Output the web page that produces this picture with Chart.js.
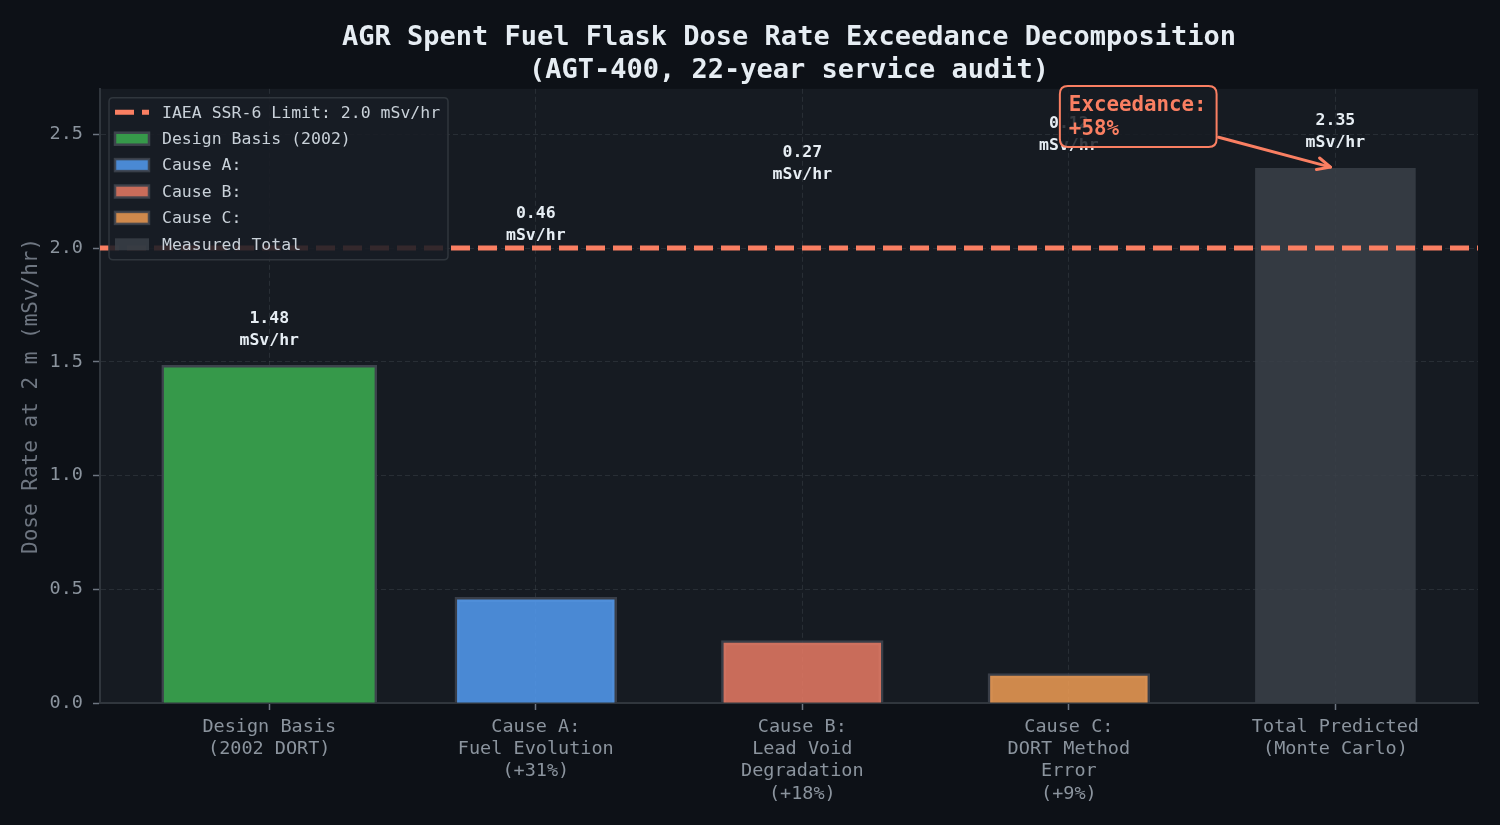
<!DOCTYPE html>
<html>
<head>
<meta charset="utf-8">
<script src="https://cdn.jsdelivr.net/npm/chart.js@4.4.1/dist/chart.umd.min.js"></script>
<style>
  html, body { margin: 0; padding: 0; background: #0d1117; }
  #wrap { width: 1500px; height: 825px; }
</style>
</head>
<body>
<div id="wrap"><canvas id="chart" width="1500" height="825"></canvas></div>
<script>
// === DATA ===
const categories = [
  ["Design Basis", "(2002 DORT)"],
  ["Cause A:", "Fuel Evolution", "(+31%)"],
  ["Cause B:", "Lead Void", "Degradation", "(+18%)"],
  ["Cause C:", "DORT Method", "Error", "(+9%)"],
  ["Total Predicted", "(Monte Carlo)"]
];
const legendNames = ["Design Basis (2002)", "Cause A:", "Cause B:", "Cause C:", "Measured Total"];
const doseValues = [1.48, 0.46, 0.27, 0.125, 2.35];
const valueLabels = ["1.48", "0.46", "0.27", "0.12", "2.35"];
const isTotal = [false, false, false, false, true];
const limitValue = 2.0;
const limitLabel = "IAEA SSR-6 Limit: 2.0 mSv/hr";
const yTicks = [0, 0.5, 1.0, 1.5, 2.0, 2.5];
const exceedanceText = ["Exceedance:", "+58%"];
const exceedanceAt = { x: 3.0, y: 2.58 };   // text anchor (data units)
const exceedanceTarget = { x: 4, y: 2.35 }; // arrow points at the total bar

// === STYLE ===
const MONO = '"DejaVu Sans Mono", monospace';
const CORAL = "#fa7f62";
const AXES_BG = "#161b22";
const GRID = "rgba(139,148,158,0.16)";
const TICK_TXT = "#8b949e";
const SPINE = "#30363d";
const X_MIN = -0.635, X_MAX = 4.535;

const barFill = [
  "#36994a",
  "rgba(83,156,243,0.85)",
  "rgba(233,122,100,0.85)",
  "rgba(240,156,83,0.85)",
  "rgba(57,64,72,0.85)"
];
const barEdge = ["#3d434c", "rgba(61,67,76,0.9)", "rgba(61,67,76,0.9)", "rgba(61,67,76,0.9)", "rgba(0,0,0,0)"];
const barWidthFrac = [0.8, 0.6, 0.6, 0.6, 0.6];

const datasets = doseValues.map((v, i) => ({
  type: "bar",
  label: legendNames[i],
  data: [{ x: i, y: v }],
  backgroundColor: barFill[i],
  borderColor: barEdge[i],
  borderWidth: isTotal[i] ? 0 : 2.5,
  borderSkipped: "start",
  inflateAmount: isTotal[i] ? 0.33 : 1.25,
  barPercentage: barWidthFrac[i],
  categoryPercentage: 1,
  grouped: false,
  order: 2
}));

datasets.push({
  type: "line",
  label: limitLabel,
  data: [{ x: X_MIN, y: limitValue }, { x: X_MAX, y: limitValue }],
  borderColor: CORAL,
  borderWidth: 5,
  borderDash: [19, 8],
  pointRadius: 0,
  order: 1
});

// axes background
const areaBg = {
  id: "areaBg",
  beforeDraw(chart) {
    const { ctx, chartArea: a } = chart;
    ctx.save();
    ctx.fillStyle = AXES_BG;
    ctx.fillRect(a.left, a.top, a.right - a.left, a.bottom - a.top);
    ctx.restore();
  }
};

function roundRect(ctx, x, y, w, h, r) {
  ctx.beginPath();
  ctx.moveTo(x + r, y);
  ctx.lineTo(x + w - r, y);
  ctx.quadraticCurveTo(x + w, y, x + w, y + r);
  ctx.lineTo(x + w, y + h - r);
  ctx.quadraticCurveTo(x + w, y + h, x + w - r, y + h);
  ctx.lineTo(x + r, y + h);
  ctx.quadraticCurveTo(x, y + h, x, y + h - r);
  ctx.lineTo(x, y + r);
  ctx.quadraticCurveTo(x, y, x + r, y);
  ctx.closePath();
}

// value labels, legend, exceedance callout
const overlay = {
  id: "overlay",
  afterDatasetsDraw(chart) {
    const { ctx, chartArea: a } = chart;
    const xs = chart.scales.x, ys = chart.scales.y;

    // value labels
    ctx.save();
    ctx.font = `bold 16.5px ${MONO}`;
    ctx.fillStyle = "#e6edf3";
    ctx.textAlign = "center";
    ctx.textBaseline = "middle";
    let cum = 0;
    doseValues.forEach((v, i) => {
      let base;
      if (isTotal[i]) base = v;
      else { cum += v; base = cum; }
      const px = xs.getPixelForValue(i);
      const y2 = ys.getPixelForValue(base + 0.07) - 10;
      ctx.fillText(valueLabels[i], px, y2 - 22);
      ctx.fillText("mSv/hr", px, y2);
    });
    ctx.restore();

    // legend
    const lx = a.left + 9, ly = a.top + 9, lw = 339, lh = 162;
    ctx.save();
    roundRect(ctx, lx, ly, lw, lh, 4);
    ctx.fillStyle = "rgba(24,28,36,0.88)";
    ctx.fill();
    ctx.lineWidth = 1.5;
    ctx.strokeStyle = "#30363d";
    ctx.stroke();
    ctx.font = `16.5px ${MONO}`;
    ctx.fillStyle = "#c9d1d9";
    ctx.textBaseline = "middle";
    ctx.textAlign = "left";
    const hx = lx + 6;
    const rows = [limitLabel, ...legendNames];
    rows.forEach((txt, k) => {
      const cy = ly + 14.5 + k * 26.4;
      if (k === 0) {
        ctx.save();
        ctx.strokeStyle = CORAL;
        ctx.lineWidth = 5;
        ctx.setLineDash([19, 8]);
        ctx.beginPath();
        ctx.moveTo(hx, cy);
        ctx.lineTo(hx + 34, cy);
        ctx.stroke();
        ctx.restore();
      } else {
        const i = k - 1;
        ctx.fillStyle = barFill[i];
        ctx.fillRect(hx, cy - 6, 34, 12);
        if (!isTotal[i]) {
          ctx.strokeStyle = barEdge[i];
          ctx.lineWidth = 2.5;
          ctx.strokeRect(hx, cy - 6, 34, 12);
        }
        ctx.fillStyle = "#c9d1d9";
      }
      ctx.fillText(txt, lx + 53, cy + 1);
    });
    ctx.restore();

    // exceedance callout
    ctx.save();
    ctx.font = `bold 20.8px ${MONO}`;
    const tx = xs.getPixelForValue(exceedanceAt.x);
    const cy = ys.getPixelForValue(exceedanceAt.y);
    const tw = Math.max(...exceedanceText.map(t => ctx.measureText(t).width));
    const bx = tx - 9, by = cy - 30, bw = tw + 19, bh = 61;
    const tgx = xs.getPixelForValue(exceedanceTarget.x);
    const tgy = ys.getPixelForValue(exceedanceTarget.y);

    // arrow
    const ccx = bx + bw / 2, ccy = by + bh / 2;
    const dx = tgx - ccx, dy = tgy - ccy;
    const t = Math.min((bx + bw - ccx) / dx, dy > 0 ? (by + bh - ccy) / dy : 1e9);
    const sx = ccx + dx * t + 2, sy = ccy + dy * t;
    const len = Math.hypot(tgx - sx, tgy - sy);
    const ux = (tgx - sx) / len, uy = (tgy - sy) / len;
    const ex = tgx - ux * 5, ey = tgy - uy * 5;
    ctx.strokeStyle = CORAL;
    ctx.lineWidth = 3;
    ctx.lineCap = "round";
    ctx.lineJoin = "round";
    ctx.beginPath();
    ctx.moveTo(sx, sy);
    ctx.lineTo(ex, ey);
    ctx.stroke();
    const hl = 13, hw = 6;
    ctx.beginPath();
    ctx.moveTo(ex - ux * hl - uy * hw, ey - uy * hl + ux * hw);
    ctx.lineTo(ex, ey);
    ctx.lineTo(ex - ux * hl + uy * hw, ey - uy * hl - ux * hw);
    ctx.stroke();

    roundRect(ctx, bx, by, bw, bh, 8);
    ctx.fillStyle = "rgba(22,27,34,0.85)";
    ctx.fill();
    ctx.lineWidth = 2;
    ctx.strokeStyle = CORAL;
    ctx.stroke();
    ctx.fillStyle = CORAL;
    ctx.textAlign = "left";
    ctx.textBaseline = "middle";
    ctx.fillText(exceedanceText[0], tx, cy - 10);
    ctx.fillText(exceedanceText[1], tx, cy + 14);
    ctx.restore();
  }
};

Chart.defaults.font.family = MONO;

new Chart(document.getElementById("chart"), {
  type: "bar",
  data: { datasets: datasets },
  options: {
    responsive: false,
    animation: false,
    devicePixelRatio: 1,
    layout: { padding: { left: 0, right: 22, top: 0, bottom: 0 } },
    plugins: {
      legend: { display: false },
      tooltip: { enabled: false },
      title: {
        display: true,
        fullSize: false,
        text: ["AGR Spent Fuel Flask Dose Rate Exceedance Decomposition", "(AGT-400, 22-year service audit)"],
        color: "#e6edf3",
        font: { family: MONO, size: 27, weight: "bold", lineHeight: 1.2 },
        padding: { top: 22, bottom: 2 }
      }
    },
    scales: {
      x: {
        type: "linear",
        min: X_MIN,
        max: X_MAX,
        offset: false,
        afterBuildTicks: s => { s.ticks = categories.map((c, i) => ({ value: i })); },
        afterFit: s => { s.height = 122; },
        ticks: {
          callback: v => categories[v],
          color: TICK_TXT,
          font: { family: MONO, size: 18.5, lineHeight: 1.2 },
          padding: 6,
          maxRotation: 0,
          autoSkip: false
        },
        grid: { offset: false, color: GRID, lineWidth: 1, tickLength: 7, tickColor: "#6e7681", tickWidth: 1.5 },
        border: { color: SPINE, width: 2, dash: [5, 3] }
      },
      y: {
        min: 0,
        max: 2.7,
        afterBuildTicks: s => { s.ticks = yTicks.map(v => ({ value: v })); },
        afterFit: s => { s.width = 100; },
        ticks: {
          callback: v => v.toFixed(1),
          color: TICK_TXT,
          font: { family: MONO, size: 18.5 },
          padding: 10
        },
        grid: { color: GRID, lineWidth: 1, tickLength: 7, tickColor: "#6e7681", tickWidth: 1.5 },
        border: { color: SPINE, width: 2, dash: [5, 3] },
        title: {
          display: true,
          text: "Dose Rate at 2 m (mSv/hr)",
          color: "#6e7681",
          font: { family: MONO, size: 21 },
          padding: { top: 19, bottom: 0 }
        }
      }
    }
  },
  plugins: [areaBg, overlay]
});
</script>
</body>
</html>
